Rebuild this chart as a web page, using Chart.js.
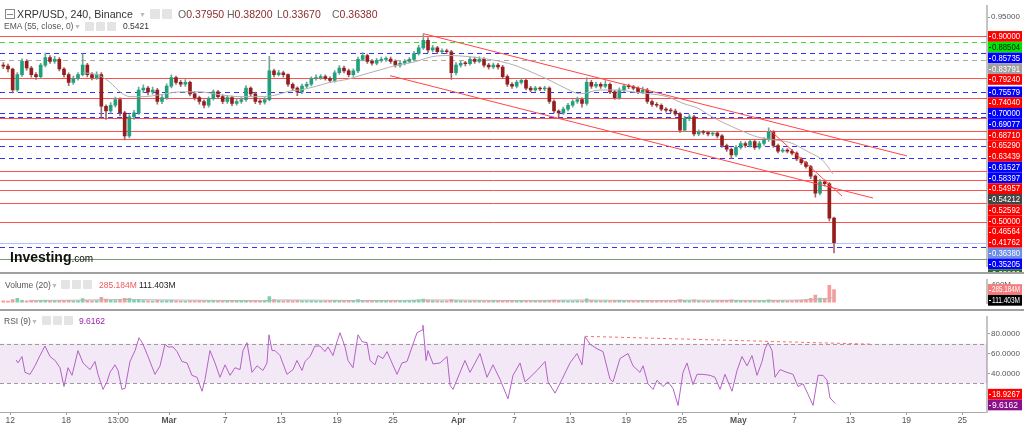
<!DOCTYPE html>
<html><head><meta charset="utf-8">
<script src="https://cdn.jsdelivr.net/npm/chart.js@4.4.1/dist/chart.umd.min.js"></script>
<style>
html,body{margin:0;padding:0;background:#fff;width:1024px;height:427px;overflow:hidden;font-family:"Liberation Sans",Arial,sans-serif;}
canvas{position:absolute;left:0;}
#cA{top:0}#cB{top:274px}#cC{top:311px}
.sep{position:absolute;left:0;width:1024px;height:2px;background:#a0a0a0;}
.t{position:absolute;white-space:nowrap;line-height:1;}
.ic{position:absolute;width:10px;height:10px;background:#e4e4e4;border-radius:1px;}
.car{position:absolute;color:#bbb;font-size:7px;}
</style></head><body>
<canvas id="cA" width="1024" height="272"></canvas>
<canvas id="cB" width="1024" height="35"></canvas>
<canvas id="cC" width="1024" height="116"></canvas>
<div class="sep" style="top:272px"></div>
<div class="sep" style="top:309px"></div>

<div style="position:absolute;left:5px;top:9px;width:8px;height:8px;border:1px solid #888;background:#fff"><div style="position:absolute;left:1px;top:3.5px;width:6px;height:1px;background:#888"></div></div>
<div class="t" style="left:17px;top:8.5px;font-size:10.7px;color:#333;">XRP/USD, 240, Binance</div>
<div class="car" style="left:139px;top:11px;">▼</div>
<div class="ic" style="left:150px;top:9px;"></div><div class="ic" style="left:162px;top:9px;"></div>
<div class="t" style="left:178px;top:8.5px;font-size:10.5px;"><span style="color:#666">O</span><span style="color:#8b2b2b">0.37950</span></div>
<div class="t" style="left:227px;top:8.5px;font-size:10.5px;"><span style="color:#666">H</span><span style="color:#8b2b2b">0.38200</span></div>
<div class="t" style="left:277px;top:8.5px;font-size:10.5px;"><span style="color:#666">L</span><span style="color:#8b2b2b">0.33670</span></div>
<div class="t" style="left:332px;top:8.5px;font-size:10.5px;"><span style="color:#666">C</span><span style="color:#8b2b2b">0.36380</span></div>

<div class="t" style="left:4px;top:22px;font-size:8.5px;color:#555;">EMA (55, close, 0)</div>
<div class="car" style="left:74px;top:23px;">▼</div>
<div class="ic" style="left:85px;top:22px;width:9px;height:9px"></div><div class="ic" style="left:96px;top:22px;width:9px;height:9px"></div><div class="ic" style="left:107px;top:22px;width:9px;height:9px"></div>
<div class="t" style="left:123px;top:22px;font-size:8.5px;color:#333;">0.5421</div>

<div class="t" style="left:10px;top:249px;color:#111;"><span style="font-size:14px;font-weight:bold;">Investing</span><span style="font-size:10px;">.com</span></div>

<div class="t" style="left:5px;top:281px;font-size:8.5px;color:#555;">Volume (20)</div>
<div class="car" style="left:51px;top:282px;">▼</div>
<div class="ic" style="left:61px;top:280px;width:9px;height:9px"></div><div class="ic" style="left:72px;top:280px;width:9px;height:9px"></div><div class="ic" style="left:83px;top:280px;width:9px;height:9px"></div>
<div class="t" style="left:99px;top:281px;font-size:8.5px;color:#f05a5a;">285.184M</div>
<div class="t" style="left:139px;top:281px;font-size:8.5px;color:#222;">111.403M</div>

<div class="t" style="left:4px;top:317px;font-size:8.5px;color:#555;">RSI (9)</div>
<div class="car" style="left:31px;top:318px;">▼</div>
<div class="ic" style="left:42px;top:316px;width:9px;height:9px"></div><div class="ic" style="left:53px;top:316px;width:9px;height:9px"></div><div class="ic" style="left:64px;top:316px;width:9px;height:9px"></div>
<div class="t" style="left:79px;top:317px;font-size:8.5px;color:#a020b0;">9.6162</div>

<script>
// ---------- DATA ----------
// time axis unit: days since 1 March (2022); candles are 12-hour steps
const FIRST_CANDLE_DAY = -17.75;
const CANDLE_STEP_DAYS = 0.5;
const opens = [0.8250,0.8229,0.8154,0.7607,0.8005,0.8353,0.8179,0.8005,0.7955,0.8254,
0.8453,0.8353,0.8403,0.8154,0.8005,0.7806,0.7905,0.8005,0.8254,0.8005,
0.7930,0.8005,0.7184,0.7060,0.7209,0.7358,0.7010,0.6413,0.6910,0.7010,
0.7607,0.7657,0.7557,0.7607,0.7308,0.7408,0.7706,0.7930,0.7806,0.7756,
0.7806,0.7507,0.7408,0.7308,0.7209,0.7383,0.7557,0.7433,0.7308,0.7408,
0.7259,0.7308,0.7358,0.7657,0.7507,0.7308,0.7290,0.7358,0.8104,0.8005,
0.8055,0.8005,0.7756,0.7657,0.7557,0.7706,0.7756,0.7905,0.7930,0.7955,
0.7905,0.7856,0.8055,0.8179,0.8104,0.8005,0.8104,0.8403,0.8503,0.8353,
0.8303,0.8378,0.8403,0.8410,0.8353,0.8254,0.8303,0.8353,0.8403,0.8552,
0.8701,0.8900,0.8652,0.8701,0.8602,0.8627,0.8602,0.8055,0.8254,0.8303,
0.8290,0.8403,0.8353,0.8403,0.8254,0.8204,0.8254,0.8204,0.7955,0.7756,
0.7706,0.7806,0.7856,0.7657,0.7607,0.7657,0.7632,0.7657,0.7308,0.7060,
0.7010,0.7109,0.7209,0.7308,0.7358,0.7259,0.7806,0.7706,0.7756,0.7706,
0.7756,0.7557,0.7408,0.7607,0.7706,0.7690,0.7657,0.7557,0.7607,0.7308,
0.7234,0.7209,0.7109,0.7085,0.7060,0.6985,0.6562,0.6861,0.6910,0.6463,
0.6512,0.6500,0.6463,0.6487,0.6413,0.6164,0.6065,0.5915,0.6114,0.6214,
0.6164,0.6264,0.6114,0.6214,0.6313,0.6512,0.6164,0.6015,0.6040,0.6015,
0.5965,0.5816,0.5716,0.5617,0.5368,0.4920,0.5219,0.5169,0.4274];
const closes = [0.8229,0.8154,0.7607,0.8005,0.8353,0.8179,0.8005,0.7955,0.8254,0.8453,
0.8353,0.8403,0.8154,0.8005,0.7806,0.7905,0.8005,0.8254,0.8005,0.7930,
0.8005,0.7184,0.7060,0.7209,0.7358,0.7010,0.6413,0.6910,0.7010,0.7607,
0.7657,0.7557,0.7607,0.7308,0.7408,0.7706,0.7930,0.7806,0.7756,0.7806,
0.7507,0.7408,0.7308,0.7209,0.7383,0.7557,0.7433,0.7308,0.7408,0.7259,
0.7308,0.7358,0.7657,0.7507,0.7308,0.7290,0.7358,0.8104,0.8005,0.8055,
0.8005,0.7756,0.7657,0.7557,0.7706,0.7756,0.7905,0.7930,0.7955,0.7905,
0.7856,0.8055,0.8179,0.8104,0.8005,0.8104,0.8403,0.8503,0.8353,0.8303,
0.8378,0.8403,0.8410,0.8353,0.8254,0.8303,0.8353,0.8403,0.8552,0.8701,
0.8900,0.8652,0.8701,0.8602,0.8627,0.8602,0.8055,0.8254,0.8303,0.8290,
0.8403,0.8353,0.8403,0.8254,0.8204,0.8254,0.8204,0.7955,0.7756,0.7706,
0.7806,0.7856,0.7657,0.7607,0.7657,0.7632,0.7657,0.7308,0.7060,0.7010,
0.7109,0.7209,0.7308,0.7358,0.7259,0.7806,0.7706,0.7756,0.7706,0.7756,
0.7557,0.7408,0.7607,0.7706,0.7690,0.7657,0.7557,0.7607,0.7308,0.7234,
0.7209,0.7109,0.7085,0.7060,0.6985,0.6562,0.6861,0.6910,0.6463,0.6512,
0.6500,0.6463,0.6487,0.6413,0.6164,0.6065,0.5915,0.6114,0.6214,0.6164,
0.6264,0.6114,0.6214,0.6313,0.6512,0.6164,0.6015,0.6040,0.6015,0.5965,
0.5816,0.5716,0.5617,0.5368,0.4920,0.5219,0.5169,0.4274,0.3638];
const highs = [0.832,0.828,0.818,0.806,0.842,0.840,0.822,0.806,0.830,0.857,
0.850,0.848,0.845,0.819,0.805,0.797,0.806,0.855,0.830,0.806,
0.808,0.806,0.722,0.728,0.742,0.740,0.705,0.697,0.708,0.768,
0.774,0.770,0.768,0.765,0.747,0.777,0.800,0.797,0.786,0.788,
0.784,0.756,0.745,0.735,0.743,0.761,0.760,0.748,0.746,0.745,
0.737,0.741,0.772,0.769,0.755,0.736,0.741,0.848,0.815,0.812,
0.810,0.803,0.779,0.769,0.776,0.781,0.795,0.800,0.801,0.800,
0.795,0.811,0.824,0.823,0.815,0.816,0.846,0.858,0.854,0.840,
0.843,0.846,0.847,0.846,0.839,0.835,0.840,0.845,0.861,0.877,
0.905,0.897,0.877,0.874,0.868,0.867,0.864,0.832,0.836,0.835,
0.846,0.846,0.847,0.845,0.830,0.831,0.830,0.825,0.800,0.780,
0.786,0.791,0.789,0.770,0.770,0.769,0.770,0.769,0.735,0.709,
0.716,0.726,0.736,0.742,0.740,0.792,0.786,0.781,0.780,0.785,
0.779,0.760,0.766,0.776,0.776,0.773,0.769,0.768,0.765,0.735,
0.728,0.725,0.715,0.713,0.711,0.702,0.692,0.697,0.695,0.657,
0.656,0.654,0.654,0.653,0.645,0.620,0.610,0.616,0.627,0.626,
0.632,0.630,0.627,0.637,0.662,0.655,0.620,0.609,0.608,0.606,
0.600,0.585,0.575,0.565,0.540,0.528,0.527,0.520,0.430];
const lows = [0.816,0.808,0.753,0.757,0.796,0.812,0.794,0.788,0.791,0.821,
0.830,0.830,0.810,0.794,0.772,0.775,0.786,0.797,0.795,0.787,
0.788,0.690,0.684,0.700,0.716,0.693,0.631,0.636,0.684,0.697,
0.754,0.748,0.750,0.724,0.725,0.736,0.766,0.775,0.769,0.770,
0.745,0.735,0.724,0.714,0.716,0.734,0.738,0.725,0.726,0.720,
0.721,0.726,0.731,0.745,0.725,0.723,0.724,0.732,0.795,0.797,
0.794,0.770,0.760,0.746,0.751,0.766,0.771,0.786,0.788,0.786,
0.780,0.781,0.801,0.805,0.795,0.796,0.806,0.836,0.830,0.825,
0.826,0.833,0.835,0.830,0.820,0.820,0.826,0.831,0.836,0.851,
0.866,0.858,0.860,0.855,0.856,0.855,0.788,0.800,0.820,0.823,
0.825,0.830,0.831,0.820,0.815,0.816,0.815,0.790,0.770,0.765,
0.766,0.776,0.761,0.756,0.757,0.759,0.759,0.726,0.701,0.690,
0.697,0.706,0.716,0.726,0.716,0.721,0.765,0.766,0.765,0.766,
0.751,0.736,0.736,0.756,0.764,0.761,0.751,0.751,0.726,0.718,
0.716,0.706,0.703,0.701,0.694,0.650,0.652,0.681,0.641,0.642,
0.645,0.641,0.642,0.636,0.611,0.601,0.582,0.588,0.607,0.611,
0.612,0.606,0.607,0.617,0.627,0.611,0.597,0.598,0.597,0.592,
0.577,0.567,0.557,0.530,0.482,0.488,0.511,0.420,0.3367];
// volume in millions
const volumes = [30,25,60,85,40,30,25,30,35,45,
30,25,30,35,40,25,30,80,40,30,
35,110,70,45,35,50,90,85,50,60,
35,30,25,40,30,35,40,30,25,20,
30,25,35,30,25,30,25,20,25,30,
20,25,35,25,30,20,25,125,60,35,
30,35,30,40,30,25,30,25,20,25,
30,35,30,25,30,25,60,45,30,25,
25,20,25,30,25,20,25,30,45,55,
70,50,35,30,25,30,60,35,30,25,
25,30,25,20,25,30,25,45,40,30,
25,25,30,25,20,25,30,45,50,40,
30,25,25,30,25,75,40,30,25,30,
25,35,40,30,25,20,25,30,40,30,
25,25,30,25,30,60,40,30,55,30,
25,25,30,35,45,40,55,40,30,30,
25,30,25,30,55,45,35,30,25,30,
40,45,60,90,160,95,80,380,285.184];
const volMaDays = [-15,-10,-5,0,5,10,12,16,20,25,28,32,36,40,44,48,52,56,60,64,67,69,70.5,71.4];
const volMaValues = [40,45,60,50,40,35,50,45,38,40,50,45,38,40,48,42,38,45,42,40,45,60,85,111.403];
// EMA(55)
const emaDays = [-9.21,-7.71,-6.32,-5.25,-4.18,-2.79,-0.96,1.18,3.32,5.46,7.61,9.75,11.57,12.96,14.04,15.43,17.25,19.07,20.79,22.61,24.43,26.14,28.29,30.11,31.93,33.64,35.46,37.29,39.0,40.82,42.64,44.04,46.18,48.0,49.71,51.54,53.36,55.07,56.89,57.64,59.36,61.18,63.0,64.71,66.54,68.36,70.07,71.14];
const emaValues = [0.8055,0.8005,0.7806,0.7557,0.7433,0.7433,0.7483,0.7557,0.7557,0.7483,0.7433,0.7433,0.7483,0.7582,0.7607,0.7682,0.7806,0.7881,0.8005,0.8129,0.8254,0.8328,0.8478,0.8503,0.8478,0.8428,0.8353,0.8229,0.8055,0.7856,0.7632,0.7507,0.7607,0.7607,0.7557,0.7507,0.7433,0.7259,0.7109,0.6985,0.6761,0.6562,0.6388,0.6313,0.6239,0.6015,0.5766,0.5421];
// RSI(9)
const rsiDays = [-16.39,-16.18,-15.75,-15.43,-14.89,-14.36,-13.82,-13.29,-12.75,-12.21,-11.68,-11.25,-10.82,-10.39,-9.75,-9.21,-8.46,-7.93,-7.61,-7.07,-6.64,-6.32,-5.79,-5.46,-5.04,-4.71,-4.18,-3.64,-3.21,-2.79,-2.25,-1.50,-0.96,-0.43,-0.11,0.43,0.86,1.39,1.93,2.46,3.00,3.54,3.86,4.39,4.93,5.46,6.00,6.54,7.07,7.61,7.93,8.36,8.89,9.43,10.07,10.50,10.71,11.04,11.36,11.89,12.64,13.29,13.71,14.25,14.57,15.11,15.64,16.18,16.71,17.04,17.57,18.00,18.32,18.86,19.18,19.71,20.25,20.68,21.21,21.54,22.07,22.39,22.93,23.36,23.89,24.43,24.96,25.50,26.04,26.57,27.11,27.21,27.54,27.75,28.29,29.04,29.79,30.11,30.43,31.18,31.71,32.25,32.79,33.32,34.07,34.71,35.46,36.32,36.86,37.61,38.14,38.68,39.43,40.29,40.61,41.36,42.11,42.96,43.71,44.25,44.57,45.11,45.86,46.50,47.25,47.57,48.32,49.18,49.71,50.46,50.79,51.32,51.86,52.29,52.93,53.46,54.00,54.54,55.07,55.50,56.14,56.57,57.21,57.96,58.50,59.04,59.57,60.32,60.86,61.39,61.93,62.46,63.00,63.54,63.86,64.18,64.61,64.93,65.46,66.21,66.86,67.39,67.93,68.46,69.00,69.54,70.07,70.50,70.82,71.36];
const rsiValues = [53.6,50.5,57,41,39,47.6,58,67.6,57,53,45.7,26.7,45.7,38,63,50.5,43.8,52,39,23.8,31.4,41,48.6,42.9,23.8,24.8,52,62.9,76,69.5,57,39,47.6,69.5,66.7,66.7,62,52,50.5,38,36,21.9,34,63,50.5,36,48.6,38,45.7,43.8,63,71,41,47.6,42.9,50.5,79,63,63,58,39,43.8,53,42.9,52,57,67.6,67.6,62,66.7,58,72,81,66.7,53,45.7,79,72,71,53,48.6,58,55,62,50.5,39,50.5,52,66.7,81,83.8,88.6,53,63,49.5,50.5,57,28,23.8,41,53,41,50.5,60,36,48.6,34,14.3,38,50.5,31.4,36,42.9,52,31.4,20,34,50.5,60,48.6,77,69.5,64.8,62,34,31.4,55,60,47.6,41,47.6,29.5,23.8,33,26.7,31.4,24.8,7.6,41,50.5,28.6,39,39,38,36,23.8,39,21.9,42.9,57,47.6,58,38,52,64.8,71,63,36,43.8,41,39,26.7,29.5,19,7.6,38,38,33,15.2,9.6162];
const rsiBandLevels = [70, 30];
const rsiTrendDays = [44.57, 75.1];
const rsiTrendValues = [77.4, 69.5];
// drawn trend lines on price
const trendUpperDays = [27.21, 79.07], trendUpperValues = [0.9075, 0.5891];
const trendLowerDays = [23.68, 75.43], trendLowerValues = [0.7980, 0.4796];
const trendShortDays = [64.39, 72.11], trendShortValues = [0.6562, 0.4846];
// horizontal levels and their kind
const levelValues = [0.90000,0.88504,0.85735,0.83791,0.79240,0.75579,0.74040,0.70000,0.69077,0.68710,0.65290,0.63439,0.61527,0.58397,0.54957,0.52592,0.50000,0.46564,0.41762,0.36380,0.35205,0.32200];
const levelKinds = ['r','g','b','k','r','b','r','b','b','r','r','r','b','b','r','r','r','r','r','c','b','o'];
const emaLastValue = 0.54212;
const priceTicks = [0.95];
const volTicks = [400];
const volLastLabels = [285.184, 111.403];
const rsiTicks = [40, 60, 80];
const rsiLastLabels = [18.9267, 9.6162];
const xTickDays = [-17,-11,-5.46,0,6,12,18,24,31,37,43,49,55,61,67,73,79,85];
const xTickLabels = ['12','18','13:00','Mar','7','13','19','25','Apr','7','13','19','25','May','7','13','19','25'];

// ---------- STYLE ----------
const X_MIN = -18.107, X_MAX = 87.64;
const AXIS_W = 37, STEP = 10.75;
const UP = '#22a07c', DOWN = '#951d1d';
const kindStyle = {
  r:{line:'#ff5050', dash:[], box:'#ff0000', txt:'#fff'},
  g:{line:'#33dd33', dash:[5,4], box:'#00e600', txt:'#111'},
  b:{line:'#3030ff', dash:[5,4], box:'#0000ff', txt:'#fff'},
  k:{line:'#aaaaaa', dash:[5,4], box:'#a0a0a0', txt:'#fff'},
  c:{line:'#b4c2f4', dash:[], box:'#6f8ee6', txt:'#fff'},
  o:{line:'#7c9a6c', dash:[], box:'#2f6a2a', txt:'#fff'}
};
Chart.defaults.font.family = '"Liberation Sans", Arial, sans-serif';
Chart.defaults.font.size = 8;
Chart.defaults.color = '#555';

const candleDays = closes.map((_, i) => FIRST_CANDLE_DAY + i * CANDLE_STEP_DAYS);
const pts = (xs, ys) => xs.map((x, i) => ({x, y: ys[i]}));

function drawLabels(ctx, chart, list) {
  const y = chart.scales.y;
  const x0 = chart.chartArea.right + 1;
  list.sort((a, b) => b.v - a.v);
  let prev = -1e9;
  ctx.save();
  ctx.font = '8.5px "Liberation Sans", Arial, sans-serif';
  ctx.textBaseline = 'middle';
  list.forEach(l => {
    let cy = Math.max(y.getPixelForValue(l.v), prev + STEP);
    prev = cy;
    ctx.fillStyle = l.box;
    ctx.fillRect(x0, cy - STEP / 2, 34, STEP);
    ctx.fillStyle = l.txt;
    ctx.fillRect(x0 + 1, Math.round(cy), 2, 1);
    ctx.fillText(l.text, x0 + 4, cy + 0.5, 28);
  });
  ctx.restore();
}

function yAxis(min, max, ticks, fmt) {
  return {
    position: 'right', min, max,
    afterFit: s => { s.width = AXIS_W; },
    afterBuildTicks: s => { s.ticks = ticks.map(v => ({value: v})); },
    grid: {drawOnChartArea: false, drawTicks: true, tickLength: 3, color: '#999'},
    border: {display: true, color: '#c4c4c4', width: 2},
    ticks: {callback: fmt, padding: 1, color: '#555', font: {size: 8}}
  };
}
const hiddenX = {type: 'linear', min: X_MIN, max: X_MAX, display: false, offset: false, grid: {offset: false}};
const baseOpts = {
  responsive: false, animation: false, events: [],
  layout: {padding: 0, autoPadding: false},
  plugins: {legend: {display: false}, tooltip: {enabled: false}}
};

// ---------- PRICE ----------
const levelPlugin = {
  id: 'levels',
  beforeDatasetsDraw(chart) {
    const {ctx, chartArea: a, scales: {y}} = chart;
    ctx.save();
    levelValues.forEach((v, i) => {
      const st = kindStyle[levelKinds[i]];
      const py = Math.round(y.getPixelForValue(v)) + 0.5;
      ctx.strokeStyle = st.line; ctx.lineWidth = 1; ctx.setLineDash(st.dash);
      ctx.beginPath(); ctx.moveTo(a.left, py); ctx.lineTo(a.right, py); ctx.stroke();
    });
    ctx.restore();
  },
  afterDraw(chart) {
    const list = levelValues.map((v, i) => {
      const st = kindStyle[levelKinds[i]];
      return {v, text: v.toFixed(5), box: st.box, txt: st.txt};
    });
    list.push({v: emaLastValue, text: emaLastValue.toFixed(5), box: '#454545', txt: '#fff'});
    drawLabels(chart.ctx, chart, list);
  }
};
const trendDs = (xs, ys) => ({type: 'line', data: pts(xs, ys), borderColor: '#ff4545', borderWidth: 1, pointRadius: 0, order: 0});
new Chart(document.getElementById('cA'), {
  type: 'bar',
  data: {datasets: [
    trendDs(trendUpperDays, trendUpperValues),
    trendDs(trendLowerDays, trendLowerValues),
    trendDs(trendShortDays, trendShortValues),
    {type: 'line', data: pts(emaDays, emaValues), borderColor: '#b0b0b0', borderWidth: 1, pointRadius: 0, cubicInterpolationMode: 'monotone', order: 1},
    {data: candleDays.map((x, i) => ({x, y: [lows[i], highs[i]]})), backgroundColor: ctx => closes[ctx.dataIndex] >= opens[ctx.dataIndex] ? '#6fa595' : '#a06a6a', barThickness: 1, grouped: false, order: 3},
    {data: candleDays.map((x, i) => ({x, y: [opens[i], closes[i]]})), backgroundColor: ctx => closes[ctx.dataIndex] >= opens[ctx.dataIndex] ? UP : DOWN, barThickness: 3, minBarLength: 1, grouped: false, order: 2}
  ]},
  options: Object.assign({}, baseOpts, {
    scales: {x: hiddenX, y: yAxis(0.30231, 0.97969, priceTicks, v => v.toFixed(5))}
  }),
  plugins: [levelPlugin]
});

// ---------- VOLUME ----------
new Chart(document.getElementById('cB'), {
  type: 'bar',
  data: {datasets: [
    {type: 'line', data: pts(volMaDays, volMaValues), borderColor: '#b8b8b8', borderWidth: 1, pointRadius: 0, order: 0},
    {data: pts(candleDays, volumes), backgroundColor: ctx => closes[ctx.dataIndex] >= opens[ctx.dataIndex] ? 'rgba(40,175,120,0.6)' : 'rgba(240,90,90,0.6)', barThickness: 3, grouped: false, order: 1}
  ]},
  options: Object.assign({}, baseOpts, {
    scales: {x: hiddenX, y: yAxis(-22.6, 505.7, volTicks, v => v + 'M')}
  }),
  plugins: [{id: 'volLabels', afterDraw(chart) {
    drawLabels(chart.ctx, chart, [
      {v: volLastLabels[0], text: volLastLabels[0].toFixed(3) + 'M', box: '#f47c7c', txt: '#fff'},
      {v: volLastLabels[1], text: volLastLabels[1].toFixed(3) + 'M', box: '#000', txt: '#fff'}
    ]);
  }}]
});

// ---------- RSI ----------
const bandPlugin = {
  id: 'band',
  beforeDatasetsDraw(chart) {
    const {ctx, chartArea: a, scales: {y}} = chart;
    const y1 = y.getPixelForValue(rsiBandLevels[0]), y2 = y.getPixelForValue(rsiBandLevels[1]);
    ctx.save();
    ctx.fillStyle = 'rgba(160,80,175,0.13)';
    ctx.fillRect(a.left, y1, a.right - a.left, y2 - y1);
    ctx.strokeStyle = '#a09aa0'; ctx.lineWidth = 1; ctx.setLineDash([4, 3]);
    [y1, y2].forEach(py => { py = Math.round(py) + 0.5; ctx.beginPath(); ctx.moveTo(a.left, py); ctx.lineTo(a.right, py); ctx.stroke(); });
    ctx.restore();
  },
  afterDraw(chart) {
    drawLabels(chart.ctx, chart, [
      {v: rsiLastLabels[0], text: rsiLastLabels[0].toFixed(4), box: '#ff0000', txt: '#fff'},
      {v: rsiLastLabels[1], text: rsiLastLabels[1].toFixed(4), box: '#8b0f8b', txt: '#fff'}
    ]);
  }
};
new Chart(document.getElementById('cC'), {
  type: 'line',
  data: {datasets: [
    {data: pts(rsiTrendDays, rsiTrendValues), borderColor: '#ff6a6a', borderWidth: 1, borderDash: [3, 3], pointRadius: 0},
    {data: pts(rsiDays, rsiValues), borderColor: '#b461c6', borderWidth: 1, pointRadius: 0, tension: 0}
  ]},
  options: Object.assign({}, baseOpts, {
    scales: {
      x: {
        type: 'linear', min: X_MIN, max: X_MAX, offset: false,
        afterFit: s => { s.height = 15; },
        afterBuildTicks: s => { s.ticks = xTickDays.map(v => ({value: v})); },
        grid: {drawOnChartArea: false, drawTicks: true, tickLength: 3, color: '#999'},
        border: {display: true, color: '#aaa', width: 1},
        ticks: {
          autoSkip: false, maxRotation: 0, padding: 1, color: '#555',
          callback: (v, i) => xTickLabels[i],
          font: ctx => ({size: 8.5, weight: /^[A-Z]/.test(xTickLabels[ctx.index] || '') ? 'bold' : 'normal'})
        }
      },
      y: yAxis(0.95, 97.14, rsiTicks, v => v.toFixed(4))
    }
  }),
  plugins: [bandPlugin]
});
</script>
</body></html>
